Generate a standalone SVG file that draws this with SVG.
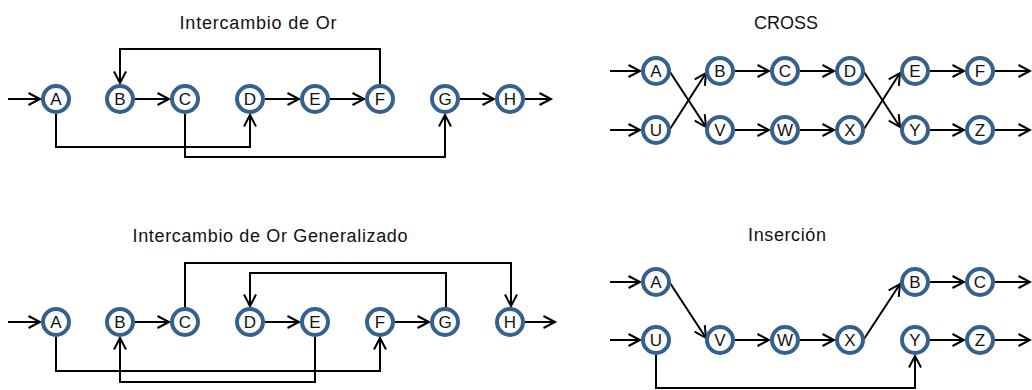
<svg xmlns="http://www.w3.org/2000/svg" width="1032" height="390" viewBox="0 0 1032 390">
  <style>
    .title { font-family: "Liberation Sans", Arial, sans-serif; font-size: 18px; fill: #111111; text-anchor: middle; }
    .node circle { fill: #ffffff; stroke: #36618f; stroke-width: 4; }
    .node text { font-family: "Liberation Sans", Arial, sans-serif; font-size: 17px; fill: #111111; text-anchor: middle; }
    .conn path { fill: none; stroke: #000000; stroke-width: 2; marker-end: url(#arrow); }
  </style>
  <defs>
    <marker id="arrow" markerUnits="userSpaceOnUse" viewBox="-14 -8 16 16" markerWidth="16" markerHeight="16" refX="0" refY="0" orient="auto" overflow="visible">
      <path d="M-11.5,-6 L0,0 L-11.5,6" fill="none" stroke="#000000" stroke-width="2" stroke-linejoin="miter"/>
    </marker>
  </defs>

  <rect width="1032" height="390" fill="#ffffff"/>

  <!-- panel titles -->
  <text class="title" x="258" y="29" textLength="157">Intercambio de Or</text>
  <text class="title" x="786" y="29" font-size="17">CROSS</text>
  <text class="title" x="270" y="242" textLength="275">Intercambio de Or Generalizado</text>
  <text class="title" x="787" y="241" textLength="78">Inserción</text>

  <!-- connectors -->
  <g id="connectors" class="conn">
    <!-- Intercambio de Or -->
    <path d="M8,99 H40"/>
    <path d="M135,99 H169"/>
    <path d="M265,99 H299"/>
    <path d="M330,99 H364"/>
    <path d="M460,99 H494"/>
    <path d="M525,99 H551"/>
    <path d="M380,84 V49 H120 V83"/>
    <path d="M56,114 V147 H250 V115"/>
    <path d="M185,114 V157 H445 V115"/>

    <!-- Intercambio de Or Generalizado -->
    <path d="M8,322 H40"/>
    <path d="M135,322 H169"/>
    <path d="M265,322 H299"/>
    <path d="M395,322 H429"/>
    <path d="M525,322 H555"/>
    <path d="M185,307 V263 H511 V306"/>
    <path d="M446,307 V273 H250 V306"/>
    <path d="M56,337 V371 H380 V338"/>
    <path d="M315,337 V382 H120 V338"/>

    <!-- CROSS -->
    <path d="M610,71 H640"/>
    <path d="M610,130 H640"/>
    <path d="M735,71 H769"/>
    <path d="M800,71 H834"/>
    <path d="M930,71 H964"/>
    <path d="M995,71 H1030"/>
    <path d="M735,130 H769"/>
    <path d="M800,130 H834"/>
    <path d="M930,130 H964"/>
    <path d="M995,130 H1030"/>
    <path d="M670,72 L706,127"/>
    <path d="M670,129 L706,73"/>
    <path d="M864,72 L900,127"/>
    <path d="M864,129 L900,73"/>

    <!-- Insercion -->
    <path d="M610,282 H640"/>
    <path d="M610,340 H640"/>
    <path d="M670,283 L706,338"/>
    <path d="M735,340 H769"/>
    <path d="M800,340 H834"/>
    <path d="M864,339 L900,284"/>
    <path d="M930,282 H964"/>
    <path d="M995,282 H1030"/>
    <path d="M930,340 H964"/>
    <path d="M995,340 H1030"/>
    <path d="M656,355 V388 H915 V356"/>
  </g>

  <!-- Intercambio de Or nodes -->
  <g id="or-A" class="node"><circle cx="56" cy="99" r="13"/><text x="56" y="105">A</text></g>
  <g id="or-B" class="node"><circle cx="120" cy="99" r="13"/><text x="120" y="105">B</text></g>
  <g id="or-C" class="node"><circle cx="185" cy="99" r="13"/><text x="185" y="105">C</text></g>
  <g id="or-D" class="node"><circle cx="250" cy="99" r="13"/><text x="250" y="105">D</text></g>
  <g id="or-E" class="node"><circle cx="315" cy="99" r="13"/><text x="315" y="105">E</text></g>
  <g id="or-F" class="node"><circle cx="380" cy="99" r="13"/><text x="380" y="105">F</text></g>
  <g id="or-G" class="node"><circle cx="445" cy="99" r="13"/><text x="445" y="105">G</text></g>
  <g id="or-H" class="node"><circle cx="510" cy="99" r="13"/><text x="510" y="105">H</text></g>

  <!-- Intercambio de Or Generalizado nodes -->
  <g id="gor-A" class="node"><circle cx="56" cy="322" r="13"/><text x="56" y="328">A</text></g>
  <g id="gor-B" class="node"><circle cx="120" cy="322" r="13"/><text x="120" y="328">B</text></g>
  <g id="gor-C" class="node"><circle cx="185" cy="322" r="13"/><text x="185" y="328">C</text></g>
  <g id="gor-D" class="node"><circle cx="250" cy="322" r="13"/><text x="250" y="328">D</text></g>
  <g id="gor-E" class="node"><circle cx="315" cy="322" r="13"/><text x="315" y="328">E</text></g>
  <g id="gor-F" class="node"><circle cx="380" cy="322" r="13"/><text x="380" y="328">F</text></g>
  <g id="gor-G" class="node"><circle cx="445" cy="322" r="13"/><text x="445" y="328">G</text></g>
  <g id="gor-H" class="node"><circle cx="510" cy="322" r="13"/><text x="510" y="328">H</text></g>

  <!-- CROSS nodes -->
  <g id="cross-A" class="node"><circle cx="656" cy="71" r="13"/><text x="656" y="77">A</text></g>
  <g id="cross-B" class="node"><circle cx="720" cy="71" r="13"/><text x="720" y="77">B</text></g>
  <g id="cross-C" class="node"><circle cx="785" cy="71" r="13"/><text x="785" y="77">C</text></g>
  <g id="cross-D" class="node"><circle cx="850" cy="71" r="13"/><text x="850" y="77">D</text></g>
  <g id="cross-E" class="node"><circle cx="915" cy="71" r="13"/><text x="915" y="77">E</text></g>
  <g id="cross-F" class="node"><circle cx="980" cy="71" r="13"/><text x="980" y="77">F</text></g>
  <g id="cross-U" class="node"><circle cx="656" cy="130" r="13"/><text x="656" y="136">U</text></g>
  <g id="cross-V" class="node"><circle cx="720" cy="130" r="13"/><text x="720" y="136">V</text></g>
  <g id="cross-W" class="node"><circle cx="785" cy="130" r="13"/><text x="785" y="136">W</text></g>
  <g id="cross-X" class="node"><circle cx="850" cy="130" r="13"/><text x="850" y="136">X</text></g>
  <g id="cross-Y" class="node"><circle cx="915" cy="130" r="13"/><text x="915" y="136">Y</text></g>
  <g id="cross-Z" class="node"><circle cx="980" cy="130" r="13"/><text x="980" y="136">Z</text></g>

  <!-- Insercion nodes -->
  <g id="ins-A" class="node"><circle cx="656" cy="282" r="13"/><text x="656" y="288">A</text></g>
  <g id="ins-B" class="node"><circle cx="915" cy="282" r="13"/><text x="915" y="288">B</text></g>
  <g id="ins-C" class="node"><circle cx="980" cy="282" r="13"/><text x="980" y="288">C</text></g>
  <g id="ins-U" class="node"><circle cx="656" cy="340" r="13"/><text x="656" y="346">U</text></g>
  <g id="ins-V" class="node"><circle cx="720" cy="340" r="13"/><text x="720" y="346">V</text></g>
  <g id="ins-W" class="node"><circle cx="785" cy="340" r="13"/><text x="785" y="346">W</text></g>
  <g id="ins-X" class="node"><circle cx="850" cy="340" r="13"/><text x="850" y="346">X</text></g>
  <g id="ins-Y" class="node"><circle cx="915" cy="340" r="13"/><text x="915" y="346">Y</text></g>
  <g id="ins-Z" class="node"><circle cx="980" cy="340" r="13"/><text x="980" y="346">Z</text></g>
</svg>
